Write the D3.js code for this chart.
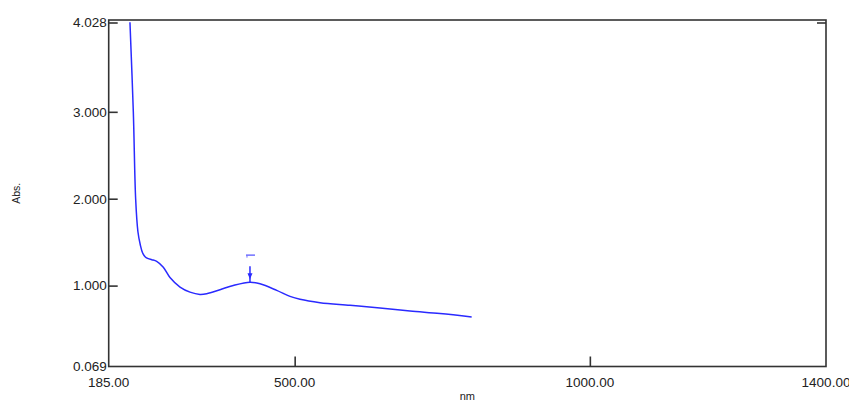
<!DOCTYPE html>
<html><head><meta charset="utf-8">
<script src="https://cdn.jsdelivr.net/npm/d3@7"></script>
<style>body{margin:0;background:#fff;}svg{display:block;font-family:"Liberation Sans",Arial,sans-serif;}</style>
</head><body><svg id="c" width="849" height="401"></svg>
<script>
const wavelengths = [221.0,226.7,230.7,234.5,238.5,242.5,247.0,252.0,258.0,266.3,277.5,288.8,305.8,322.7,339.6,351.0,373.5,396.0,424.3,441.3,469.6,492.1,509.0,542.9,593.7,644.5,695.3,746.2,799.8];
const absorbance  = [4.03,3.00,1.99,1.62,1.47,1.375,1.33,1.310,1.298,1.279,1.211,1.093,0.983,0.925,0.899,0.907,0.953,1.002,1.040,1.021,0.945,0.876,0.842,0.804,0.774,0.743,0.708,0.679,0.640];
const xTicks = [185, 500, 1000, 1400];
const xTickLabels = ["185.00","500.00","1000.00","1400.00"];
const yTicks = [0.069, 1.0, 2.0, 3.0, 4.028];
const yTickLabels = ["0.069","1.000","2.000","3.000","4.028"];
const peak = {nm: 424.3, abs: 1.040};

const svg = d3.select("#c");
const L = 108.7, R = 826, T = 20, B = 366.5;
const x = d3.scaleLinear().domain([185, 1400]).range([L, R]);
const y = d3.scaleLinear().domain([0.069, 4.028]).range([B, T + 2.5]);

svg.append("defs").append("clipPath").attr("id","clip")
  .append("rect").attr("x",L).attr("y",T).attr("width",R-L).attr("height",B-T);

svg.append("rect").attr("x",L).attr("y",T).attr("width",R-L).attr("height",B-T)
  .attr("fill","none").attr("stroke","#333").attr("stroke-width",1.6);

const yAxis = d3.axisRight(y).tickValues(yTicks.filter(v => v > 0.07)).tickSize(9).tickFormat("");
svg.append("g").attr("transform",`translate(${L},0)`).call(yAxis)
  .call(g => { g.select(".domain").remove(); g.selectAll("line").attr("stroke","#333").attr("stroke-width",1.6); });
const yAxisR = d3.axisLeft(y).tickValues([4.028]).tickSize(9).tickFormat("");
svg.append("g").attr("transform",`translate(${R},0)`).call(yAxisR)
  .call(g => { g.select(".domain").remove(); g.selectAll("line").attr("stroke","#333").attr("stroke-width",1.6); });

svg.append("g").selectAll("text").data(yTicks).join("text")
  .attr("x", L - 2).attr("y", d => y(d)).attr("dy","0.36em")
  .attr("text-anchor","end").attr("font-size",13.5).attr("fill","#222")
  .text((d,i) => yTickLabels[i]);

const xAxis = d3.axisTop(x).tickValues([500, 1000]).tickSize(10).tickFormat("");
svg.append("g").attr("transform",`translate(0,${B})`).call(xAxis)
  .call(g => { g.select(".domain").remove(); g.selectAll("line").attr("stroke","#333").attr("stroke-width",1.6); });

svg.append("g").selectAll("text").data(xTicks).join("text")
  .attr("x", d => x(d)).attr("y", B + 20)
  .attr("text-anchor","middle").attr("font-size",13.5).attr("fill","#222")
  .text((d,i) => xTickLabels[i]);

svg.append("text").attr("transform",`translate(20,${(T+B)/2}) rotate(-90)`)
  .attr("text-anchor","middle").attr("font-size",10.5).attr("fill","#222").text("Abs.");
svg.append("text").attr("x",(L+R)/2).attr("y",400).attr("text-anchor","middle")
  .attr("font-size",11).attr("fill","#222").text("nm");

const data = wavelengths.map((w,i) => [w, absorbance[i]]);
svg.append("path").datum(data).attr("clip-path","url(#clip)")
  .attr("fill","none").attr("stroke","#2a2aff").attr("stroke-width",1.5)
  .attr("d", d3.line().x(d => x(d[0])).y(d => y(d[1])).curve(d3.curveCatmullRom.alpha(0.5)));

const px = x(peak.nm), py = y(peak.abs);
svg.append("line").attr("x1",px).attr("x2",px).attr("y1",py-16).attr("y2",py)
  .attr("stroke","#2a2aff").attr("stroke-width",1.5);
svg.append("path").attr("d",`M${px-2.5},${py-9}L${px+2.5},${py-9}L${px},${py-3}Z`).attr("fill","#2a2aff");
svg.append("line").attr("x1",px-4).attr("x2",px+5).attr("y1",py-27).attr("y2",py-27)
  .attr("stroke","#7070ff").attr("stroke-width",1.5);
svg.append("line").attr("x1",px-3).attr("x2",px-3).attr("y1",py-27).attr("y2",py-24.5)
  .attr("stroke","#7070ff").attr("stroke-width",1);
</script></body></html>
